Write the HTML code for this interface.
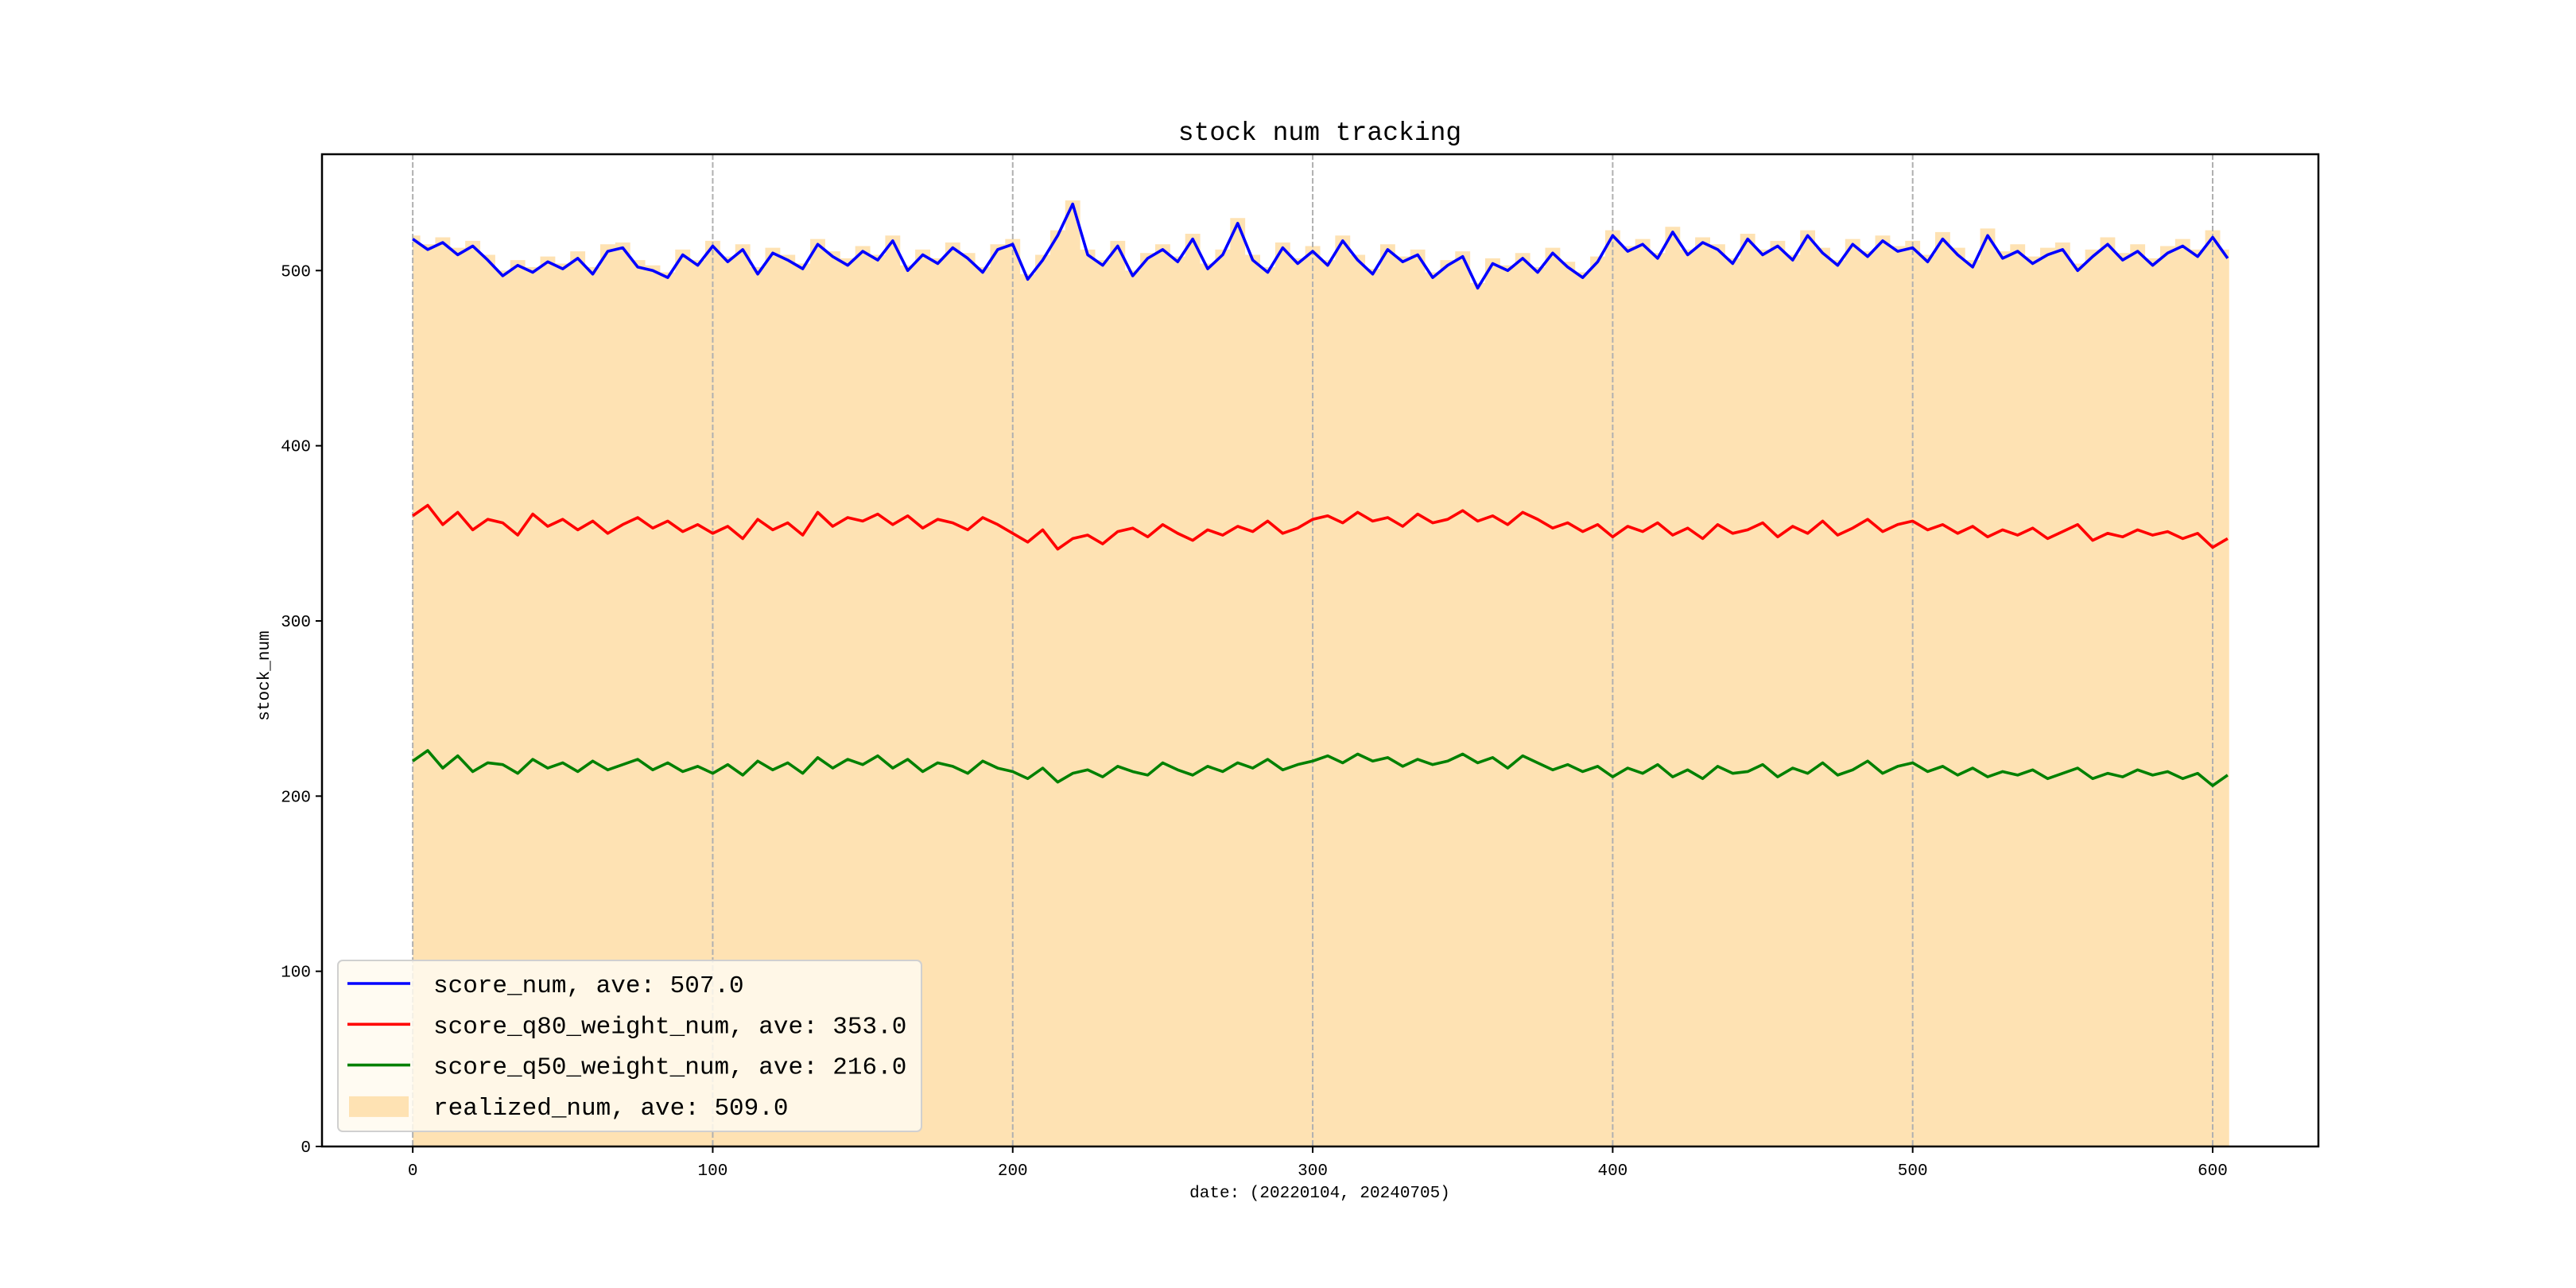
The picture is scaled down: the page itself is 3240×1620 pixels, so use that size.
<!DOCTYPE html>
<html><head><meta charset="utf-8"><style>
html,body{margin:0;padding:0;background:#fff;}
svg{display:block;}
text{font-family:"Liberation Mono","Noto Sans CJK SC",monospace;fill:#000;}
</style></head><body>
<svg id="chart" width="3240" height="1620" viewBox="0 0 3240 1620" xmlns="http://www.w3.org/2000/svg">
<rect width="3240" height="1620" fill="#fff"/>
<g id="plot"></g>
<text x="1660" y="176" font-size="33" text-anchor="middle">stock num tracking</text>
<text x="1660" y="1506" font-size="21" text-anchor="middle">date: (20220104, 20240705)</text>
<text transform="translate(338,850) rotate(-90)" font-size="21" text-anchor="middle">stock_num</text>
</svg>
<script>
const step = 5;
const scoreNum = [518,512,516,509,514,506,
497,503,499,505,501,507,498,511,513,502,500,496,509,503,
514,505,512,498,510,506,501,515,508,503,511,506,517,500,509,504,513,507,499,512,
515,495,506,520,538,509,503,514,497,507,512,505,518,501,509,527,506,499,513,504,
511,503,517,506,498,512,505,509,496,503,508,490,504,500,507,499,510,502,496,505,
520,511,515,507,522,509,516,512,504,518,509,514,506,520,510,503,515,508,517,511,
513,505,518,509,502,520,507,511,504,509,512,500,508,515,506,511,503,510,514,508,519,507];
const q80Num = [360,366,355,362,352,358,
356,349,361,354,358,352,357,350,355,359,353,357,351,355,
350,354,347,358,352,356,349,362,354,359,357,361,355,360,353,358,356,352,359,355,
350,345,352,341,347,349,344,351,353,348,355,350,346,352,349,354,351,357,350,353,
358,360,356,362,357,359,354,361,356,358,363,357,360,355,362,358,353,356,351,355,
348,354,351,356,349,353,347,355,350,352,356,348,354,350,357,349,353,358,351,355,
357,352,355,350,354,348,352,349,353,347,351,355,346,350,348,352,349,351,347,350,342,347];
const q50Num = [220,226,216,223,214,219,
218,213,221,216,219,214,220,215,218,221,215,219,214,217,
213,218,212,220,215,219,213,222,216,221,218,223,216,221,214,219,217,213,220,216,
214,210,216,208,213,215,211,217,214,212,219,215,212,217,214,219,216,221,215,218,
220,223,219,224,220,222,217,221,218,220,224,219,222,216,223,219,215,218,214,217,
211,216,213,218,211,215,210,217,213,214,218,211,216,213,219,212,215,220,213,217,
219,214,217,212,216,211,214,212,215,210,213,216,210,213,211,215,212,214,210,213,206,212];
const realizedNum = [520,515,519,513,517,509,
500,506,502,508,504,511,502,515,516,506,503,499,512,506,
517,508,515,502,513,509,504,518,511,507,514,509,520,503,512,507,516,510,502,515,
518,498,509,523,540,512,506,517,500,510,515,508,521,504,512,530,509,502,516,507,
514,506,520,509,501,515,508,512,499,506,511,493,507,503,510,502,513,505,499,508,
523,514,518,510,525,512,519,515,507,521,512,517,509,523,513,506,518,511,520,514,
517,509,522,513,506,524,511,515,508,513,516,504,512,519,510,515,507,514,518,512,523,512];
const xTicks = [0,100,200,300,400,500,600];
const yTicks = [0,100,200,300,400,500];
const legendLabels = ["score_num, ave: 507.0","score_q80_weight_num, ave: 353.0","score_q50_weight_num, ave: 216.0","realized_num, ave: 509.0"];

const L=405,R=2916,T=194,B=1442;
const xMin=-30.25,xMax=635.25,yMin=0,yMax=566.4;
const xs=v=>L+(v-xMin)/(xMax-xMin)*(R-L);
const ys=v=>B-(v-yMin)/(yMax-yMin)*(B-T);
const NS="http://www.w3.org/2000/svg";
const g=document.getElementById('plot');
function mk(tag,attrs,parent){const e=document.createElementNS(NS,tag);for(const k in attrs)e.setAttribute(k,attrs[k]);(parent||g).appendChild(e);return e;}

// realized area (step bars)
const lastX=(realizedNum.length-1)*step;
let d=`M${xs(0)},${ys(0)}`;
realizedNum.forEach((v,i)=>{const x=i*step;const a=Math.max(0,x-step/2),b=Math.min(lastX+0.5,x+step/2);d+=` L${xs(a)},${ys(v)} L${xs(b)},${ys(v)}`;});
d+=` L${xs(lastX+0.5)},${ys(0)} Z`;
const area=mk('path',{d:d,fill:'#fee2b3',stroke:'none'});



// grid
xTicks.forEach(t=>{
  const gl=mk('line',{x1:xs(t),x2:xs(t),y1:T,y2:B,stroke:'#b0b0b0','stroke-width':2,'stroke-dasharray':'7,3'});
  
  
});

function line(arr,color,name){
  const pts=arr.map((v,i)=>`${xs(i*step)},${ys(v)}`).join(' ');
  const p=mk('polyline',{points:pts,fill:'none',stroke:color,'stroke-width':3.6,'stroke-linejoin':'round'});
  
  
}
line(scoreNum,'#0000ff','score-num-line');
line(q80Num,'#ff0000','score-q80-line');
line(q50Num,'#008000','score-q50-line');

// axes frame
const fr=mk('rect',{x:L,y:T,width:R-L,height:B-T,fill:'none',stroke:'#000','stroke-width':2.5});



xTicks.forEach(t=>{
  mk('line',{x1:xs(t),x2:xs(t),y1:B,y2:B+8,stroke:'#000','stroke-width':2});
  const tx=mk('text',{x:xs(t),y:B+36,'font-size':21,'text-anchor':'middle'});
  tx.textContent=t;
  
  
});
yTicks.forEach(t=>{
  mk('line',{x1:L-8,x2:L,y1:ys(t),y2:ys(t),stroke:'#000','stroke-width':2});
  const tx=mk('text',{x:L-14,y:ys(t)+7,'font-size':21,'text-anchor':'end'});
  tx.textContent=t;
  
  
});

// legend
const lg=mk('g',{});


mk('rect',{x:425,y:1208,width:734,height:215,rx:6,fill:'#fffaf0','fill-opacity':0.85,stroke:'#d0d0d0','stroke-width':2},lg);
const colors=['#0000ff','#ff0000','#008000'];
legendLabels.forEach((lab,i)=>{
  const cy=1237+i*51.3;
  if(i<3){const h=mk('line',{x1:437,x2:516,y1:cy,y2:cy,stroke:colors[i],'stroke-width':3.6},lg);
    
    }
  else{const h=mk('rect',{x:439,y:cy-12,width:75,height:26,fill:'#fee2b3'},lg);
    
    }
  const tx=mk('text',{x:545,y:cy+11,'font-size':31},lg);
  tx.textContent=lab;
  
  
});
</script>
</body></html>
